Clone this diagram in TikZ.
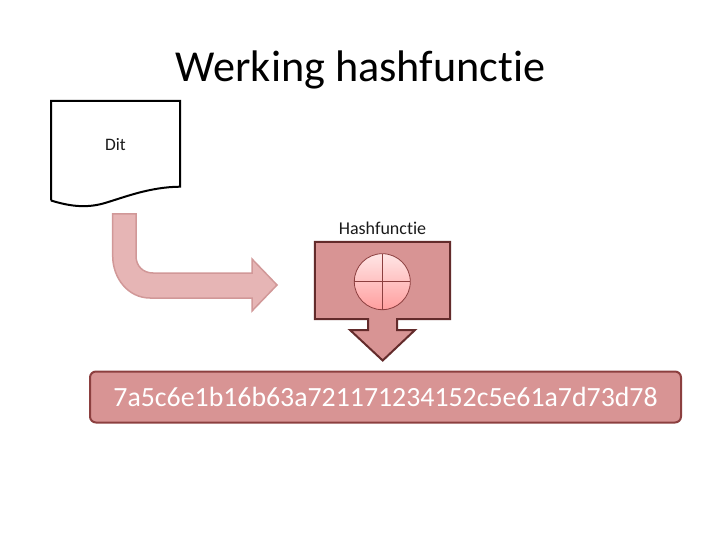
\documentclass[tikz,border=0pt]{standalone}
\usepackage{fontspec}
\setmainfont[RawFeature={-liga}]{Carlito}
\definecolor{boxred}{HTML}{D89494}
\definecolor{darkred}{HTML}{632B2B}
\definecolor{midred}{HTML}{8C3F3F}
\definecolor{armfill}{HTML}{E6B5B5}
\definecolor{armline}{HTML}{D19898}
\definecolor{textgrey}{HTML}{1A1A1A}
\tikzset{
  pagetext/.style={inner sep=0pt,text=textgrey},
  hashbody/.style={fill=boxred,draw=darkred,line width=2pt,line join=miter},
  globe/.style={draw=midred,line width=0.8pt},
}
\begin{document}
\begin{tikzpicture}[x=1pt,y=-1pt]
\useasboundingbox (0,0) rectangle (720,540);
\fill[white] (0,0) rectangle (720,540);
\node[pagetext,font=\fontsize{44.2}{48}\selectfont,text=black] (title) at (360.5,70) {Werking hashfunctie};
% document
\draw[black,line width=2pt,fill=white,line join=miter] (51,200.5) -- (51,101) -- (180,101) -- (180,186.7)
  .. controls (150,187) and (125,197) .. (105,203)
  .. controls (88,208) and (72,207) .. (51,200.5);
\node[pagetext,font=\fontsize{17.5}{20}\selectfont] (dit) at (115.5,145) {Dit};
% bent arrow
\draw[armline,fill=armfill,line width=1.5pt,line join=miter] (112.7,214) -- (136,214) -- (136,256)
  .. controls (136,266) and (143,273) .. (153,273) -- (252,273) -- (252,259) -- (277,285) -- (252,311) -- (252,298) -- (150,298)
  .. controls (128,298) and (112.7,278) .. (112.7,256) -- cycle;
% hash function
\node[pagetext,font=\fontsize{18}{20}\selectfont] (hf) at (382.5,228.5) {Hashfunctie};
\draw[hashbody] (314.8,241.8) -- (450,241.8) -- (450,319) -- (397,319) -- (397,330) -- (415,330) -- (382.7,360.5) -- (350,330) -- (368,330) -- (368,319) -- (314.8,319) -- cycle;
\shade[top color=red!10!white,bottom color=red!38!white] (382.3,281.7) circle[radius=28];
\draw[globe] (382.3,281.7) circle[radius=28];
\draw[globe] (382.3,253.7) -- (382.3,309.7);
\draw[globe] (354.3,281.7) -- (410.3,281.7);
% result
\node[draw=midred,fill=boxred,line width=2pt,rounded corners=6pt,minimum width=591pt,minimum height=51pt,inner sep=0pt,text=white,font=\fontsize{27.8}{30}\selectfont] (result) at (385.5,397) {\raisebox{-1pt}{7a5c6e1b16b63a721171234152c5e61a7d73d78}};
\end{tikzpicture}
\end{document}
